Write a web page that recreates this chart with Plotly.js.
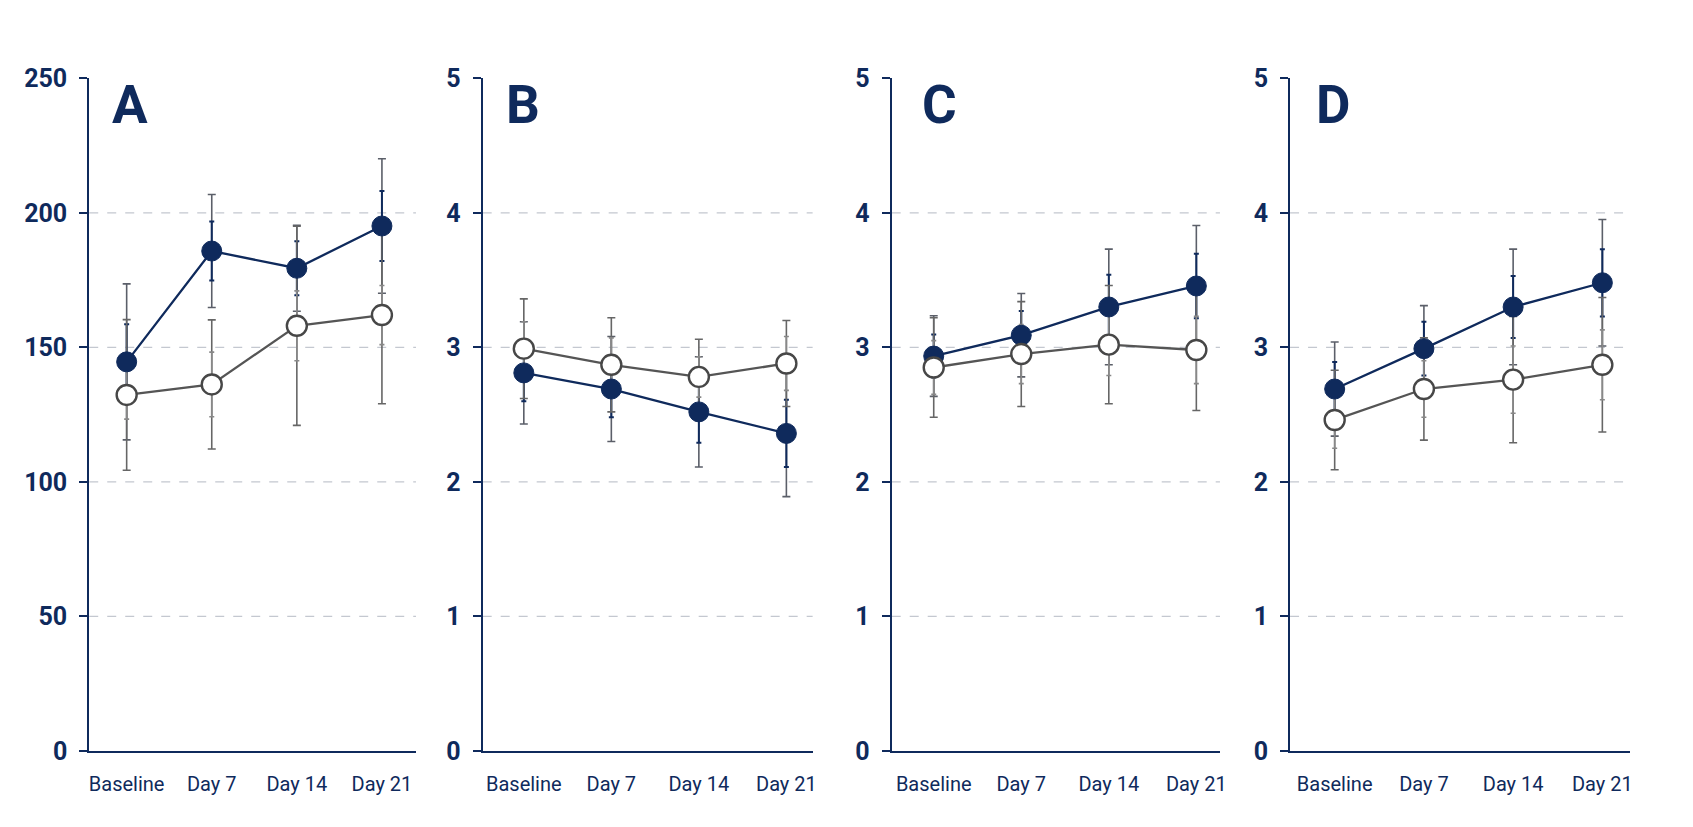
<!DOCTYPE html>
<html>
<head>
<meta charset="utf-8">
<script src="https://cdn.plot.ly/plotly-3.0.1.min.js"></script>
<style>
  html, body { margin: 0; padding: 0; background: #fff; }
  #chart { width: 1693px; height: 827px; }
</style>
</head>
<body>
<div id="chart"></div>
<script>
const categories = ["Baseline", "Day 7", "Day 14", "Day 21"];
const panelLetters = ["A", "B", "C", "D"];

// panel A
const aFilled = [144.6, 185.8, 179.4, 195.1];
const aFilledSd = [29, 21, 16, 25];
const aFilledSe = [14, 11, 10, 13];
const aOpen = [132.3, 136.2, 158, 162];
const aOpenSd = [28, 24, 37, 33];
const aOpenSe = [9, 12, 13, 11];
const aTicks = [0, 50, 100, 150, 200, 250];

// panel B
const bFilled = [2.81, 2.69, 2.52, 2.36];
const bFilledSd = [0.38, 0.39, 0.41, 0.47];
const bFilledSe = [0.21, 0.21, 0.23, 0.25];
const bOpen = [2.99, 2.87, 2.78, 2.88];
const bOpenSd = [0.37, 0.35, 0.28, 0.32];
const bOpenSe = [0.2, 0.2, 0.15, 0.2];

// panel C
const cFilled = [2.935, 3.09, 3.3, 3.456];
const cFilledSd = [0.3, 0.31, 0.43, 0.45];
const cFilledSe = [0.16, 0.18, 0.24, 0.24];
const cOpen = [2.85, 2.95, 3.02, 2.98];
const cOpenSd = [0.37, 0.39, 0.44, 0.45];
const cOpenSe = [0.2, 0.22, 0.23, 0.25];

// panel D
const dFilled = [2.69, 2.99, 3.3, 3.48];
const dFilledSd = [0.35, 0.32, 0.43, 0.47];
const dFilledSe = [0.2, 0.2, 0.23, 0.25];
const dOpen = [2.46, 2.69, 2.76, 2.87];
const dOpenSd = [0.37, 0.38, 0.47, 0.5];
const dOpenSe = [0.21, 0.21, 0.25, 0.26];

const scoreTicks = [0, 1, 2, 3, 4, 5];

const navy = "#0f2a5c";
const grey = "#555555";

const panels = [
  { filled: aFilled, fSd: aFilledSd, fSe: aFilledSe, open: aOpen, oSd: aOpenSd, oSe: aOpenSe, ticks: aTicks,
    domain: [0.0527, 0.2457], xr: [-0.44, 3.4], letterShift: 21 },
  { filled: bFilled, fSd: bFilledSd, fSe: bFilledSe, open: bOpen, oSd: bOpenSd, oSe: bOpenSe, ticks: scoreTicks,
    domain: [0.2851, 0.48], xr: [-0.47, 3.3], letterShift: 21 },
  { filled: cFilled, fSd: cFilledSd, fSe: cFilledSe, open: cOpen, oSd: cOpenSd, oSe: cOpenSe, ticks: scoreTicks,
    domain: [0.5267, 0.7206], xr: [-0.48, 3.27], letterShift: 28 },
  { filled: dFilled, fSd: dFilledSd, fSe: dFilledSe, open: dOpen, oSd: dOpenSd, oSe: dOpenSe, ticks: scoreTicks,
    domain: [0.762, 0.9628], xr: [-0.5, 3.31], letterShift: 24 },
];

const yDomain = [0.0921, 0.9053];

function errTrace(vals, errs, color, capw, thick, n) {
  return {
    x: categories, y: vals, type: "scatter", mode: "markers",
    marker: { size: 1, color: "rgba(0,0,0,0)" },
    error_y: { type: "data", array: errs, visible: true, color: color, thickness: thick, width: capw },
    xaxis: "x" + (n === 1 ? "" : n), yaxis: "y" + (n === 1 ? "" : n),
    hoverinfo: "skip", showlegend: false,
  };
}

const traces = [];
const layout = {
  width: 1693,
  height: 827,
  margin: { l: 0, r: 0, t: 0, b: 0 },
  paper_bgcolor: "#ffffff",
  plot_bgcolor: "#ffffff",
  showlegend: false,
  font: { family: "Roboto, sans-serif", color: navy },
  shapes: [],
  annotations: [],
};

panels.forEach((p, i) => {
  const n = i + 1;
  const sfx = n === 1 ? "" : String(n);

  traces.push(errTrace(p.filled, p.fSd, "#5b5f69", 4, 1.6, n));
  traces.push(errTrace(p.filled, p.fSe, navy, 2.5, 2, n));
  traces.push(errTrace(p.open, p.oSd, "#666666", 4, 1.6, n));
  traces.push(errTrace(p.open, p.oSe, "#888888", 2.5, 1.6, n));

  traces.push({
    x: categories, y: p.filled, type: "scatter", mode: "lines+markers",
    line: { color: navy, width: 2.3 },
    marker: { size: 20, color: navy, line: { color: navy, width: 1 } },
    xaxis: "x" + sfx, yaxis: "y" + sfx, showlegend: false,
  });
  traces.push({
    x: categories, y: p.open, type: "scatter", mode: "lines+markers",
    line: { color: grey, width: 2.3 },
    marker: { size: 20, color: "#ffffff", line: { color: "#474747", width: 2.4 } },
    xaxis: "x" + sfx, yaxis: "y" + sfx, showlegend: false,
  });

  const top = p.ticks[p.ticks.length - 1];

  layout["xaxis" + sfx] = {
    domain: p.domain,
    anchor: "y" + sfx,
    type: "category",
    range: p.xr,
    showline: true,
    linecolor: navy,
    linewidth: 2,
    ticks: "",
    showgrid: false,
    zeroline: false,
    ticklabelstandoff: 14,
    tickfont: { family: "Roboto, sans-serif", size: 20, color: navy },
    fixedrange: true,
  };
  layout["yaxis" + sfx] = {
    domain: yDomain,
    anchor: "x" + sfx,
    range: [0, top],
    tickvals: p.ticks,
    showline: true,
    linecolor: navy,
    linewidth: 2,
    ticks: "outside",
    ticklen: 8,
    tickwidth: 2,
    tickcolor: navy,
    showgrid: false,
    zeroline: false,
    ticklabelstandoff: 7,
    tickfont: { family: "Roboto, sans-serif", size: 25, color: navy, weight: "bold" },
    fixedrange: true,
  };

  p.ticks.slice(1, -1).forEach((v) => {
    layout.shapes.push({
      type: "line", layer: "below",
      xref: "x" + sfx + " domain", x0: 0, x1: 1,
      yref: "y" + sfx, y0: v, y1: v,
      line: { color: "#c4c8d0", width: 1.3, dash: "dash" },
    });
  });

  layout.annotations.push({
    text: panelLetters[i],
    xref: "x" + sfx + " domain", yref: "y" + sfx + " domain",
    x: 0, y: 0.96, xanchor: "left", yanchor: "middle",
    xshift: p.letterShift,
    showarrow: false,
    font: { family: "Roboto, sans-serif", size: 53, color: navy, weight: "bold" },
  });
});

Plotly.newPlot("chart", traces, layout, { displayModeBar: false, staticPlot: true });
</script>
</body>
</html>
